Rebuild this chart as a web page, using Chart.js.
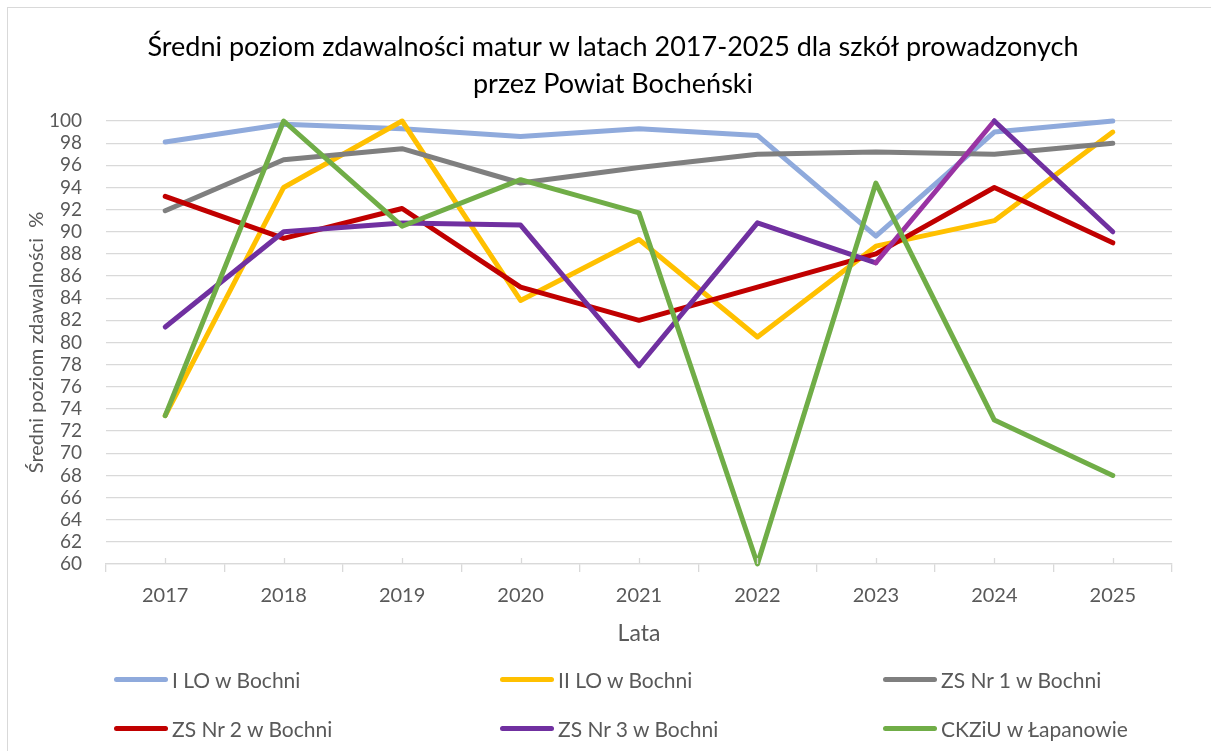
<!DOCTYPE html>
<html lang="pl">
<head>
<meta charset="utf-8">
<title>Średni poziom zdawalności matur 2017-2025</title>
<script src="https://cdn.jsdelivr.net/npm/chart.js@4.4.1/dist/chart.umd.min.js"></script>
<style>
  body { margin: 0; background: #fff; }
  #wrap { position: relative; width: 1211px; height: 751px; overflow: hidden; }
  #frame { position: absolute; left: 7px; top: 7px; width: 1300px; height: 900px; border: 1px solid #D9D9D9; box-sizing: border-box; }
  #chart { position: absolute; left: 0; top: 0; }
  .leg { position: absolute; display: flex; align-items: center; font-family: Lato, sans-serif; font-size: 21px; color: #595959; white-space: nowrap; }
  .leg span.line { display: inline-block; width: 54px; height: 5px; border-radius: 3px; margin-right: 4px; }
</style>
</head>
<body>
<div id="wrap">
  <div id="frame"></div>
  <canvas id="chart" width="1211" height="751"></canvas>
  <div id="legend"></div>
</div>
<script>
// Dane
const lata = ['2017', '2018', '2019', '2020', '2021', '2022', '2023', '2024', '2025'];
const szkoly = ['I LO w Bochni', 'II LO w Bochni', 'ZS Nr 1 w Bochni', 'ZS Nr 2 w Bochni', 'ZS Nr 3 w Bochni', 'CKZiU w Łapanowie'];
const kolory = ['#8FAADC', '#FFC000', '#7F7F7F', '#C00000', '#7030A0', '#70AD47'];

const ILO = [98.1, 99.7, 99.3, 98.6, 99.3, 98.7, 89.6, 99.0, 100];
const IILO = [73.4, 94.0, 100, 83.8, 89.3, 80.5, 88.7, 91.0, 99.0];
const ZS1 = [91.9, 96.5, 97.5, 94.4, 95.8, 97.0, 97.2, 97.0, 98.0];
const ZS2 = [93.2, 89.4, 92.1, 85.0, 82.0, 85.0, 88.0, 94.0, 89.0];
const ZS3 = [81.4, 90.0, 90.8, 90.6, 77.9, 90.8, 87.2, 100, 90.0];
const CKZiU = [73.4, 100, 90.5, 94.7, 91.7, 60.0, 94.4, 73.0, 68.0];

const osY = { min: 60, max: 100, krok: 2 };

const serie = [ILO, IILO, ZS1, ZS2, ZS3, CKZiU];

// znaczniki osi X w środku kategorii (nad osią, jak w Excelu)
const znacznikiSrodka = {
    id: 'znacznikiSrodka',
    afterDatasetsDraw(chart) {
        const x = chart.scales.x;
        const ctx = chart.ctx;
        ctx.save();
        ctx.strokeStyle = '#D9D9D9';
        ctx.lineWidth = 1.3;
        lata.forEach((_, i) => {
            const px = Math.round(x.getPixelForValue(i)) + 0.5;
            ctx.beginPath();
            ctx.moveTo(px, chart.chartArea.bottom - 6);
            ctx.lineTo(px, chart.chartArea.bottom);
            ctx.stroke();
        });
        ctx.restore();
    }
};

const datasets = serie.map((dane, i) => ({
    label: szkoly[i],
    data: dane,
    borderColor: kolory[i],
    backgroundColor: kolory[i],
    borderWidth: 5,
    pointRadius: 0,
    tension: 0,
    borderCapStyle: 'round',
    borderJoinStyle: 'round',
    clip: 8,
    order: serie.length - i,
    // odcinek 2023-2024 dla ZS Nr 3 ma jaśniejszy fiolet
    segment: i === 4 ? { borderColor: ctx => ctx.p1DataIndex === 7 ? '#9933A3' : undefined } : undefined
}));

const ctx = document.getElementById('chart').getContext('2d');
const chart = new Chart(ctx, {
    type: 'line',
    data: { labels: lata, datasets: datasets },
    plugins: [znacznikiSrodka],
    options: {
        responsive: false,
        devicePixelRatio: 1,
        animation: false,
        layout: { padding: { left: 15, right: 0, top: 0, bottom: 87 } },
        plugins: {
            legend: { display: false },
            tooltip: { enabled: false },
            title: {
                display: true,
                text: ['Średni poziom zdawalności matur w latach 2017-2025 dla szkół prowadzonych', 'przez Powiat Bocheński'],
                color: '#000000',
                font: { family: 'Lato', size: 27, weight: 'normal', lineHeight: 1.3704 },
                padding: { top: 28.5, bottom: 18.5 }
            }
        },
        scales: {
            x: {
                offset: true,
                afterFit(scale) { scale.height = 100; },
                grid: { offset: true, drawOnChartArea: false, drawTicks: true, tickLength: 8, color: '#D9D9D9', lineWidth: 1.3 },
                border: { display: true, color: '#D9D9D9', width: 1.3 },
                ticks: { color: '#595959', font: { family: 'Lato', size: 20 }, padding: 12, maxRotation: 0 },
                title: { display: true, text: 'Lata', color: '#595959', font: { family: 'Lato', size: 23 }, padding: { top: 0, bottom: 17 } }
            },
            y: {
                min: osY.min,
                max: osY.max,
                afterFit(scale) { scale.width = 91; },
                grid: { color: '#D9D9D9', lineWidth: 1.3, drawTicks: false },
                border: { display: false },
                ticks: { stepSize: osY.krok, autoSkip: false, color: '#595959', font: { family: 'Lato', size: 19 }, padding: 24 },
                title: { display: true, text: 'Średni poziom zdawalności  %', color: '#595959', font: { family: 'Lato', size: 20 }, padding: { top: 10, bottom: 0 } }
            },
            // pusty margines po prawej, żeby tytuł był wyśrodkowany jak w oryginale
            prawy: {
                position: 'right',
                min: osY.min,
                max: osY.max,
                afterFit(scale) { scale.width = 39; },
                grid: { drawOnChartArea: false, drawTicks: false },
                border: { display: false },
                ticks: { display: false }
            }
        }
    }
});

// legenda w układzie 3 kolumny x 2 wiersze
const kolumnyX = [114, 500, 883];
const wierszeY = [679, 728];
const legenda = document.getElementById('legend');
chart.data.datasets.forEach((ds, i) => {
    const el = document.createElement('div');
    el.className = 'leg';
    el.style.left = kolumnyX[i % 3] + 'px';
    el.style.top = (wierszeY[Math.floor(i / 3)] - 13) + 'px';
    el.style.height = '26px';
    el.innerHTML = '<span class="line" style="background:' + ds.borderColor + '"></span>' + ds.label;
    legenda.appendChild(el);
});
</script>
</body>
</html>
